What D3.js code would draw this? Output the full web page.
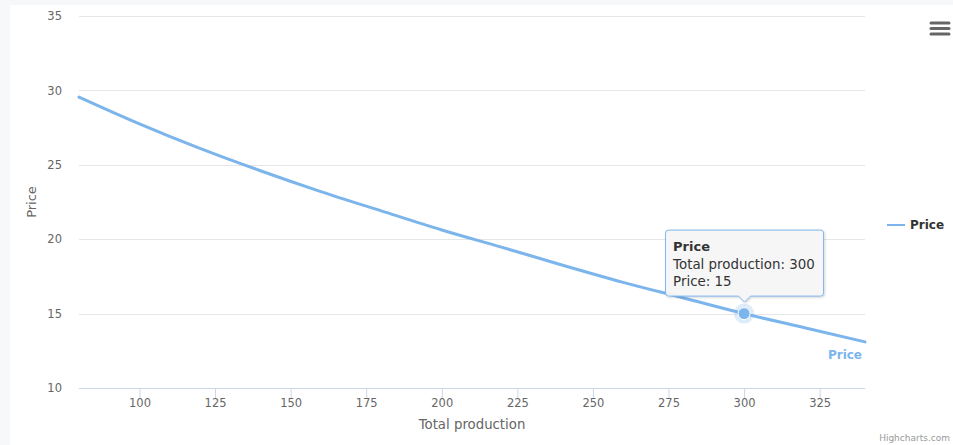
<!DOCTYPE html>
<html><head><meta charset="utf-8">
<script src="https://cdn.jsdelivr.net/npm/d3@7"></script>
<style>
html,body{margin:0;padding:0;background:#f7f8fa;}
svg{display:block;}
</style></head>
<body>
<svg id="chart" width="953" height="445"></svg>
<script>
// ---- data ----
const production = [80, 100, 120, 140, 160, 180, 200, 220, 240, 260, 280, 300, 320, 340];
const price      = [29.55, 27.75, 26.1, 24.6, 23.2, 21.9, 20.62, 19.45, 18.25, 17.1, 16.05, 15.0, 14.05, 13.1];
const xTicks = [100, 125, 150, 175, 200, 225, 250, 275, 300, 325];
const yTicks = [10, 15, 20, 25, 30, 35];
const seriesName = "Price";
const xTitle = "Total production";
const yTitle = "Price";
const hoverPoint = {x: 300, y: 15};

const FONT = '"DejaVu Sans", Verdana, sans-serif';
const color = "#7cb5ec";
const svg = d3.select("#chart");
const W = 953, H = 445;
const plot = {left: 79, right: 865, top: 16, bottom: 388};

// container
svg.append("rect").attr("x", 10).attr("y", 5).attr("width", W - 10).attr("height", H - 5).attr("fill", "#ffffff");

const x = d3.scaleLinear().domain([80, 340]).range([plot.left, plot.right]);
const y = d3.scaleLinear().domain([10, 35]).range([plot.bottom, plot.top]);

// grid lines
svg.append("g").selectAll("line").data(yTicks.filter(d => d !== 10)).join("line")
  .attr("x1", plot.left).attr("x2", plot.right)
  .attr("y1", d => Math.round(y(d)) + 0.5).attr("y2", d => Math.round(y(d)) + 0.5)
  .attr("stroke", "#e6e6e6").attr("stroke-width", 1);

// y axis labels
const yAxis = d3.axisLeft(y).tickValues(yTicks).tickSize(0).tickPadding(0);
const gy = svg.append("g").attr("transform", `translate(${62},0)`).call(yAxis);
gy.select(".domain").remove();
gy.selectAll("text").attr("font-family", FONT).attr("font-size", 11.5).attr("fill", "#666666");

// x axis
const xAxis = d3.axisBottom(x).tickValues(xTicks).tickSize(10).tickPadding(0).tickSizeOuter(0);
const gx = svg.append("g").attr("transform", `translate(0,${plot.bottom + 0.5})`).call(xAxis);
gx.select(".domain").attr("stroke", "#ccd6eb").attr("d", `M${plot.left},0H${plot.right}`);
gx.selectAll(".tick line").attr("stroke", "#ccd6eb");
gx.selectAll("text").attr("font-family", FONT).attr("font-size", 11.5).attr("fill", "#666666");

// axis titles
svg.append("text").attr("x", (plot.left + plot.right) / 2).attr("y", 429)
  .attr("text-anchor", "middle").attr("font-family", FONT).attr("font-size", 13.3)
  .attr("fill", "#666666").text(xTitle);
svg.append("text").attr("transform", `translate(36,${(plot.top + plot.bottom) / 2}) rotate(-90)`)
  .attr("text-anchor", "middle").attr("font-family", FONT).attr("font-size", 13)
  .attr("fill", "#666666").text(yTitle);

// series line
const data = production.map((p, i) => ({x: p, y: price[i]}));
const line = d3.line().x(d => x(d.x)).y(d => y(d.y)).curve(d3.curveMonotoneX);
svg.append("path").datum(data).attr("d", line).attr("fill", "none")
  .attr("stroke", color).attr("stroke-width", 3).attr("stroke-linejoin", "round").attr("stroke-linecap", "round");

// series label
const last = data[data.length - 1];
svg.append("text").attr("x", x(last.x) - 3).attr("y", y(last.y) + 17)
  .attr("text-anchor", "end").attr("font-family", FONT).attr("font-size", 12).attr("font-weight", "bold")
  .attr("fill", color).text(seriesName);

// hover halo + marker
const hx = x(hoverPoint.x), hy = y(hoverPoint.y);
svg.append("circle").attr("cx", hx).attr("cy", hy).attr("r", 10).attr("fill", color).attr("fill-opacity", 0.25);
svg.append("circle").attr("cx", hx).attr("cy", hy).attr("r", 6).attr("fill", color).attr("stroke", "#ffffff").attr("stroke-width", 1);

// tooltip
const defs = svg.append("defs");
const f = defs.append("filter").attr("id", "shadow").attr("x", "-20%").attr("y", "-20%").attr("width", "140%").attr("height", "150%");
f.append("feDropShadow").attr("dx", 1).attr("dy", 1).attr("stdDeviation", 1.2).attr("flood-color", "#000").attr("flood-opacity", 0.18);
const tw = 158, th = 66;
const tx = hx - 79, ty = hy - 84;
const r = 3;
const pathD = `M${tx + r},${ty} H${tx + tw - r} Q${tx + tw},${ty} ${tx + tw},${ty + r} V${ty + th - r} Q${tx + tw},${ty + th} ${tx + tw - r},${ty + th}
 H${hx + 6} L${hx},${ty + th + 6} L${hx - 6},${ty + th} H${tx + r} Q${tx},${ty + th} ${tx},${ty + th - r} V${ty + r} Q${tx},${ty} ${tx + r},${ty} Z`;
svg.append("path").attr("d", pathD).attr("transform", "translate(0.5,0.5)")
  .attr("fill", "rgba(247,247,247,0.92)").attr("stroke", color).attr("stroke-width", 1).attr("filter", "url(#shadow)");
const tt = svg.append("text").attr("font-family", FONT).attr("font-size", 13.4).attr("fill", "#333333");
tt.append("tspan").attr("x", tx + 8).attr("y", ty + 21).attr("font-weight", "bold").attr("font-size", 13).text(seriesName);
tt.append("tspan").attr("x", tx + 8).attr("y", ty + 39).text(`${xTitle}: ${hoverPoint.x}`);
tt.append("tspan").attr("x", tx + 8).attr("y", ty + 56).text(`${yTitle}: ${hoverPoint.y}`);

// legend
svg.append("line").attr("x1", 887).attr("x2", 905).attr("y1", 225).attr("y2", 225)
  .attr("stroke", color).attr("stroke-width", 2);
svg.append("text").attr("x", 910).attr("y", 229).attr("font-family", FONT).attr("font-size", 12)
  .attr("font-weight", "bold").attr("fill", "#333333").text(seriesName);

// menu icon
svg.append("g").selectAll("line").data([23, 28.5, 34]).join("line")
  .attr("x1", 931).attr("x2", 949).attr("y1", d => d).attr("y2", d => d)
  .attr("stroke", "#666666").attr("stroke-width", 3).attr("stroke-linecap", "round");

// credits
svg.append("text").attr("x", 950).attr("y", 441).attr("text-anchor", "end")
  .attr("font-family", FONT).attr("font-size", 9).attr("fill", "#999999").text("Highcharts.com");
</script>
</body></html>
